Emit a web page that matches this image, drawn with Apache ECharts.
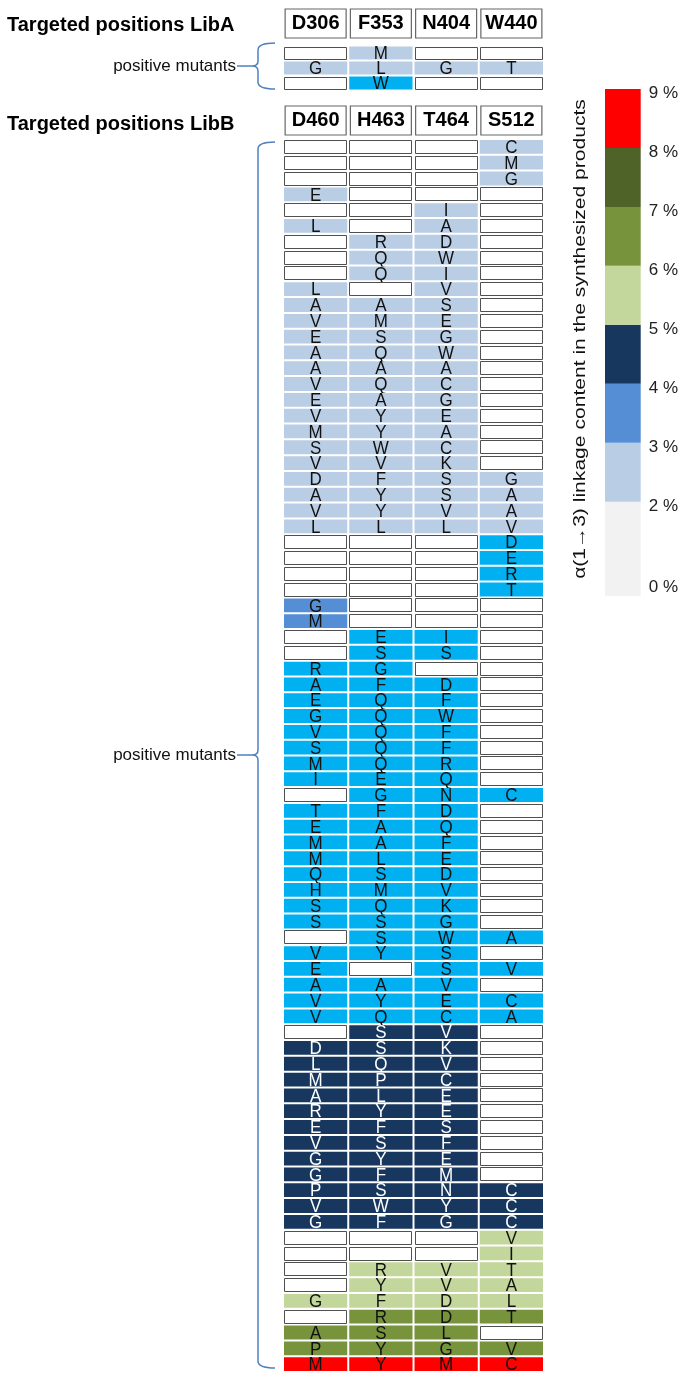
<!DOCTYPE html>
<html><head><meta charset="utf-8">
<script src="https://cdn.jsdelivr.net/npm/echarts@6/dist/echarts.min.js"></script>
<style>html,body{margin:0;padding:0;background:#fff;} #c{width:681px;height:1379px;}</style>
</head><body><div id="c"></div>
<script>
// ---------- DATA ----------
const libAPositions = ['D306', 'F353', 'N404', 'W440'];
const libBPositions = ['D460', 'H463', 'T464', 'S512'];
// one string per mutant (row), one character per targeted position, '-' = no substitution
const libAMutants = ['-M--', 'GLGT', '-W--'];
// colour class of each row: 1 light blue (2-3 %), 2 cyan, 3 mid blue (3-4 %), 4 navy (4-5 %),
// 5 light green (5-6 %), 6 olive (6-7 %), 7 dark olive (7-8 %), 8 red (8-9 %)
const libALevels = [1, 1, 2];
const libBMutants = [
  '---C', '---M', '---G', 'E---', '--I-', 'L-A-', '-RD-', '-QW-', '-QI-', 'L-V-',
  'AAS-', 'VME-', 'ESG-', 'AQW-', 'AAA-', 'VQC-', 'EAG-', 'VYE-', 'MYA-', 'SWC-',
  'VVK-', 'DFSG', 'AYSA', 'VYVA', 'LLLV',
  '---D', '---E', '---R', '---T',
  'G---', 'M---',
  '-EI-', '-SS-', 'RG--', 'AFD-', 'EQF-', 'GQW-', 'VQF-', 'SQF-', 'MQR-', 'IEQ-',
  '-GNC', 'TFD-', 'EAQ-', 'MAF-', 'MLE-', 'QSD-', 'HMV-', 'SQK-', 'SSG-', '-SWA',
  'VYS-', 'E-SV', 'AAV-', 'VYEC', 'VQCA',
  '-SV-', 'DSK-', 'LQV-', 'MPC-', 'ALE-', 'RYE-', 'EFS-', 'VSF-', 'GYE-', 'GFM-',
  'PSNC', 'VWYC', 'GFGC',
  '---V', '---I', '-RVT', '-YVA', 'GFDL',
  '-RDT', 'ASL-', 'PYGV',
  'MYMC'
];
const libBLevels = [
  1, 1, 1, 1, 1, 1, 1, 1, 1, 1,
  1, 1, 1, 1, 1, 1, 1, 1, 1, 1,
  1, 1, 1, 1, 1,
  2, 2, 2, 2,
  3, 3,
  2, 2, 2, 2, 2, 2, 2, 2, 2, 2,
  2, 2, 2, 2, 2, 2, 2, 2, 2, 2,
  2, 2, 2, 2, 2,
  4, 4, 4, 4, 4, 4, 4, 4, 4, 4,
  4, 4, 4,
  5, 5, 5, 5, 5,
  6, 6, 6,
  8
];
const legendBounds = [0, 2, 3, 4, 5, 6, 7, 8, 9];
const legendTitle = 'α(1→3) linkage content in the synthesized products';

// ---------- STYLE ----------
const FONT = 'Liberation Sans, Arial, Helvetica, sans-serif';
const legendColors = ['#F2F2F2', '#B9CDE5', '#558ED5', '#17375E', '#C3D69B', '#77933C', '#4F6228', '#FF0000'];
const cellColors = {1: '#B9CDE5', 2: '#00B0F0', 3: '#558ED5', 4: '#17375E', 5: '#C3D69B', 6: '#77933C', 7: '#4F6228', 8: '#FF0000'};
// the colour key draws its first (0-2 %) band a little taller than the 1 %-wide bands, as in the original
const legendPos = b => (b <= 2 ? b * 0.8 : 1.6 + (b - 2));

function buildCells(mutants, levels) {
  const cells = [];
  mutants.forEach((s, r) => {
    for (let c = 0; c < s.length; c++) {
      const ch = s[c];
      cells.push({col: c, row: r, level: ch === '-' ? 0 : levels[r], letter: ch === '-' ? '' : ch});
    }
  });
  return cells;
}
const cellsA = buildCells(libAMutants, libALevels);
const cellsB = buildCells(libBMutants, libBLevels);

function cellRenderer(cells) {
  return function (params, api) {
    const cell = cells[params.dataIndex];
    const p = api.coord([api.value(0), api.value(1)]);
    const s = api.size([1, 1]);
    const w = s[0] - 2, h = s[1] - 2;
    const x = p[0] - w / 2, y = p[1] - h / 2;
    if (!cell.level) {
      return {type: 'rect', shape: {x: Math.round(x) + 0.5, y: Math.round(y) + 0.5, width: Math.round(w) - 1, height: Math.round(h) - 1},
        style: {fill: '#fff', stroke: '#505050', lineWidth: 1}};
    }
    return {type: 'group', children: [
      {type: 'rect', shape: {x: x, y: y, width: w, height: h}, style: {fill: cellColors[cell.level]}},
      {type: 'text', x: p[0], y: p[1] + 1, scaleY: 1.12, style: {text: cell.letter, fill: cell.level === 4 ? '#fff' : '#111',
        fontSize: 17, fontFamily: FONT, align: 'center', verticalAlign: 'middle'}}
    ]};
  };
}

function bracketRenderer(params, api) {
  const cs = params.coordSys;
  const isA = params.seriesIndex === 1;
  const xv = cs.x - 25, xe = cs.x - 8, xt = xv - 6;
  const top = isA ? cs.y - 2.5 : cs.y + 3;
  const bottom = isA ? cs.y + cs.height - 1.5 : cs.y + cs.height - 4;
  const mid = (top + bottom) / 2;
  const r = 7, r2 = 5;
  const d = 'M' + xe + ' ' + top + ' Q' + xv + ' ' + top + ' ' + xv + ' ' + (top + r) +
    ' L' + xv + ' ' + (mid - r2) + ' Q' + xv + ' ' + mid + ' ' + xt + ' ' + mid +
    ' Q' + xv + ' ' + mid + ' ' + xv + ' ' + (mid + r2) +
    ' L' + xv + ' ' + (bottom - r) + ' Q' + xv + ' ' + bottom + ' ' + xe + ' ' + bottom +
    ' M' + (cs.x - 46) + ' ' + mid + ' L' + xt + ' ' + mid;
  return {type: 'group', children: [
    {type: 'path', shape: {pathData: d}, style: {fill: null, stroke: '#4F81BD', lineWidth: 1.5}},
    {type: 'text', x: cs.x - 47, y: mid, style: {text: 'positive mutants', fill: '#111', fontSize: 17, fontFamily: FONT,
      align: 'right', verticalAlign: 'middle'}}
  ]};
}

function headerAxis(grid, data, margin) {
  return {
    type: 'category', gridIndex: grid, data: data, position: 'top',
    axisLine: {show: false}, axisTick: {show: false}, splitLine: {show: false},
    axisLabel: {interval: 0, margin: margin, fontSize: 20, fontWeight: 'bold', fontFamily: FONT, color: '#000',
      width: 61, height: 29, lineHeight: 29, align: 'center', borderColor: '#666', borderWidth: 1.2, padding: 0}
  };
}
function rowAxis(grid, n) {
  const names = [];
  for (let i = 0; i < n; i++) names.push('mutant ' + (i + 1));
  return {type: 'category', gridIndex: grid, data: names, inverse: true, show: false};
}

const legendTicks = legendBounds.map(legendPos);
const chart = echarts.init(document.getElementById('c'), null, {renderer: 'canvas'});
chart.setOption({
  animation: false,
  backgroundColor: '#fff',
  textStyle: {fontFamily: FONT},
  title: [
    {text: 'Targeted positions LibA', left: 7, top: 15, padding: 0, textStyle: {fontSize: 20, fontWeight: 'bold', color: '#000', fontFamily: FONT}},
    {text: 'Targeted positions LibB', left: 7, top: 114, padding: 0, textStyle: {fontSize: 20, fontWeight: 'bold', color: '#000', fontFamily: FONT}}
  ],
  grid: [
    {left: 283, top: 45.5, width: 261, height: 45},
    {left: 283, top: 139, width: 261, height: 1233},
    {left: 605, top: 89, width: 36, height: 507}
  ],
  xAxis: [
    headerAxis(0, libAPositions, 7.5),
    headerAxis(1, libBPositions, 4),
    {type: 'category', gridIndex: 2, data: ['scale'], show: false}
  ],
  yAxis: [
    rowAxis(0, libAMutants.length),
    rowAxis(1, libBMutants.length),
    {type: 'value', gridIndex: 2, min: 0, max: legendPos(legendBounds[legendBounds.length - 1]), position: 'right',
      axisLine: {show: false}, axisTick: {show: false}, splitLine: {show: false},
      axisLabel: {margin: 8, fontSize: 17, color: '#222', fontFamily: FONT,
        customValues: legendTicks,
        formatter: v => {
          let k = 0;
          legendTicks.forEach((t, i) => { if (Math.abs(t - v) < 1e-6) k = i; });
          return '{v|' + legendBounds[k] + ' %}';
        },
        rich: {v: {fontSize: 17, color: '#222', fontFamily: FONT, padding: [9, 0, 0, 0]}},
        verticalAlignMinLabel: 'bottom'}}
  ],
  series: [
    {type: 'custom', xAxisIndex: 0, yAxisIndex: 0, renderItem: cellRenderer(cellsA),
      data: cellsA.map(c => [c.col, c.row, c.level]), encode: {x: 0, y: 1}},
    {type: 'custom', xAxisIndex: 0, yAxisIndex: 0, renderItem: bracketRenderer, data: [[0, 0]], encode: {x: 0, y: 1}, silent: true},
    {type: 'custom', xAxisIndex: 1, yAxisIndex: 1, renderItem: cellRenderer(cellsB),
      data: cellsB.map(c => [c.col, c.row, c.level]), encode: {x: 0, y: 1}},
    {type: 'custom', xAxisIndex: 1, yAxisIndex: 1, renderItem: bracketRenderer, data: [[0, 0]], encode: {x: 0, y: 1}, silent: true},
    {type: 'custom', xAxisIndex: 2, yAxisIndex: 2,
      renderItem: function (params, api) {
        const lo = api.coord([0, legendPos(api.value(1))]);
        const hi = api.coord([0, legendPos(api.value(2))]);
        const w = api.size([1, 0])[0];
        return {type: 'rect', shape: {x: lo[0] - w / 2, y: hi[1], width: w, height: lo[1] - hi[1]},
          style: {fill: legendColors[params.dataIndex]}};
      },
      data: legendColors.map((c, i) => [0, legendBounds[i], legendBounds[i + 1]]), encode: {x: 0, y: [1, 2]}}
  ],
  graphic: [
    {type: 'text', x: 580, y: 339, rotation: Math.PI / 2, scaleX: 1.24,
      style: {text: legendTitle, fontSize: 17, fontFamily: FONT, fill: '#111', align: 'center', verticalAlign: 'middle'}}
  ]
});
</script>
</body></html>
